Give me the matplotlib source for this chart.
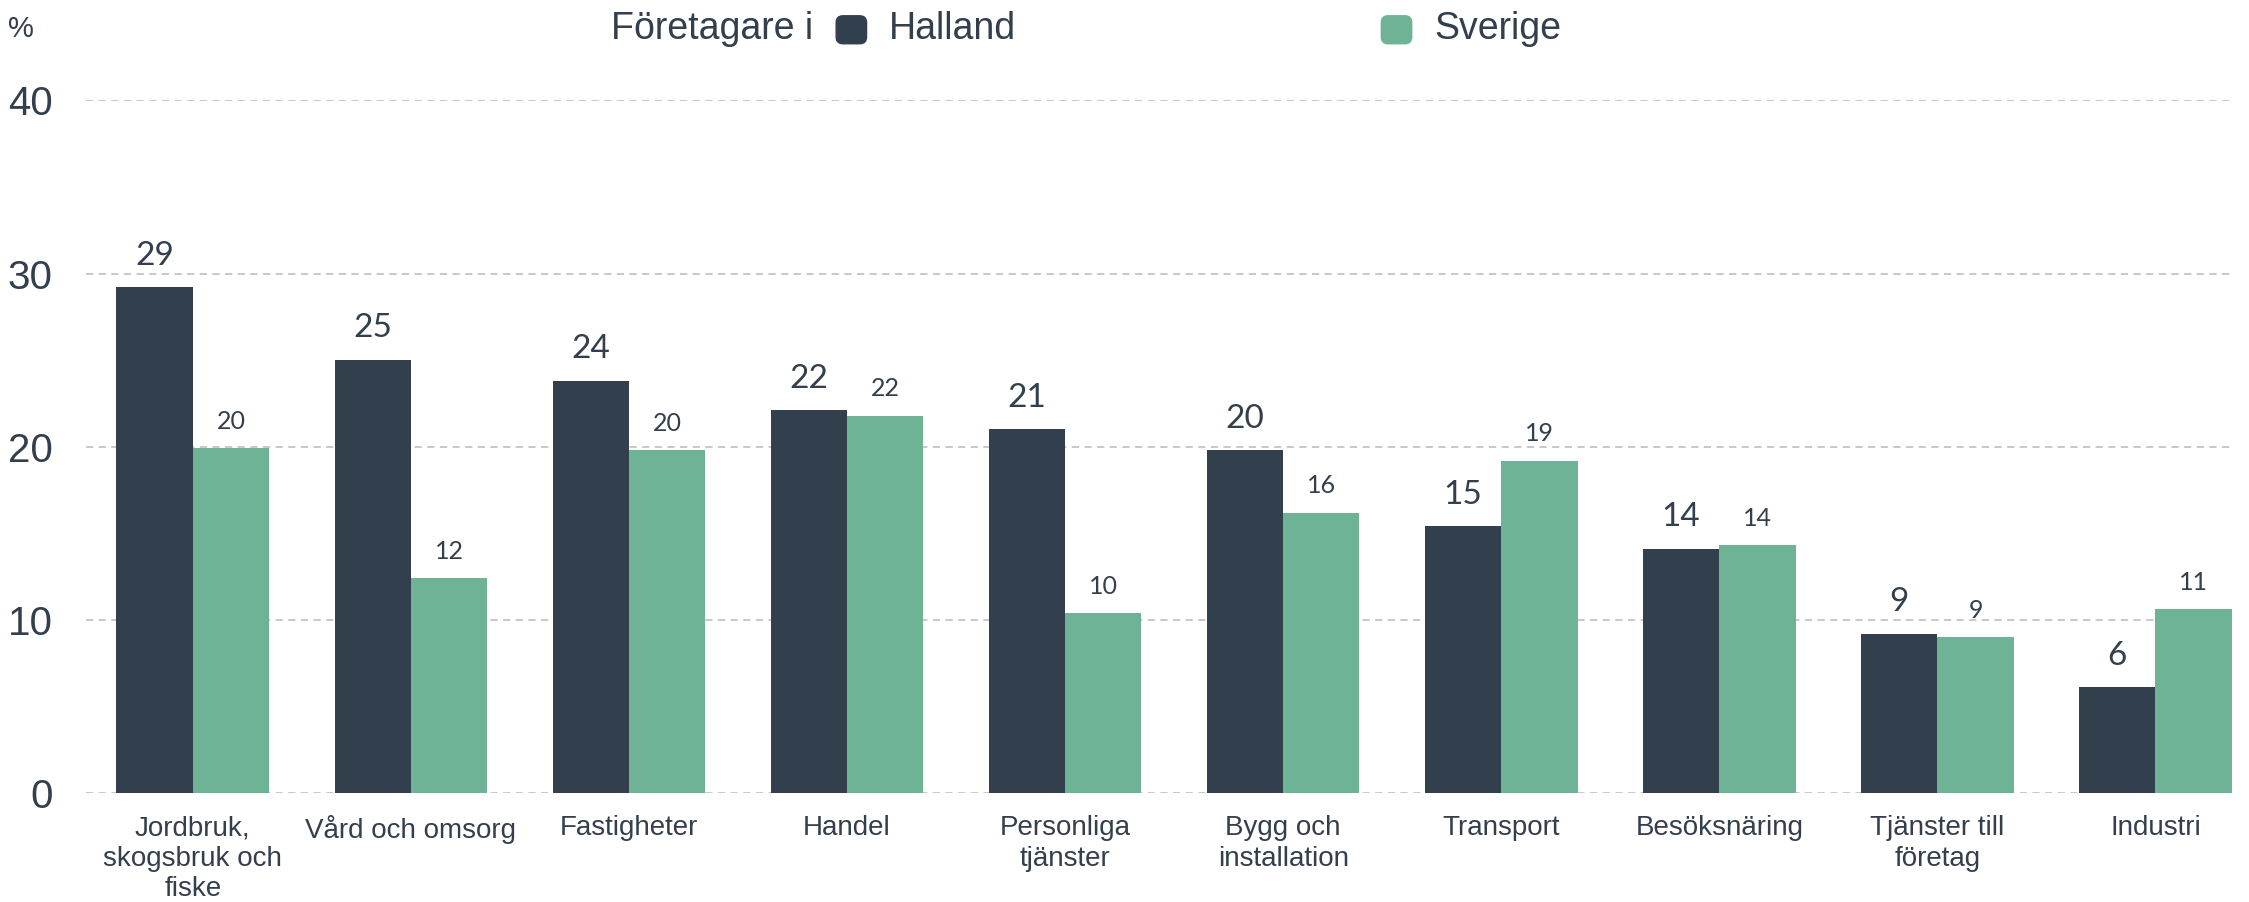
import matplotlib
matplotlib.use("Agg")
import matplotlib.pyplot as plt
import numpy as np
from matplotlib.patches import FancyBboxPatch

categories = ["Jordbruk,\nskogsbruk och\nfiske", "Vård och omsorg", "Fastigheter", "Handel",
              "Personliga\ntjänster", "Bygg och\ninstallation", "Transport", "Besöksnäring",
              "Tjänster till\nföretag", "Industri"]
halland = [29.2, 25.0, 23.8, 22.1, 21.0, 19.8, 15.4, 14.1, 9.2, 6.1]
sverige = [19.9, 12.4, 19.8, 21.8, 10.4, 16.2, 19.2, 14.3, 9.0, 10.6]
yticks = [0, 10, 20, 30, 40]
legend_title = "Företagare i"
series_names = ["Halland", "Sverige"]

DARK = "#323f4d"
GREEN = "#6fb396"
TEXT = "#333f4d"
SANS = ["Liberation Sans", "DejaVu Sans"]

plt.rcParams["font.family"] = SANS

fig = plt.figure(figsize=(22.49, 9.02), dpi=100)
ax = fig.add_axes([0.0382, 0.1208, 0.9551, 0.7679])

x = np.arange(len(categories))
w = 0.35
b1 = ax.bar(x - w / 2, halland, width=w, color=DARK, zorder=3)
b2 = ax.bar(x + w / 2, sverige, width=w, color=GREEN, zorder=3)

for rect, v in zip(b1, halland):
    ax.annotate(f"{round(v):d}", (rect.get_x() + rect.get_width() / 2, v),
                xytext=(0, 12), textcoords="offset points", ha="center", va="bottom",
                fontsize=24, color=TEXT, family=["Lato", "DejaVu Sans"])
for rect, v in zip(b2, sverige):
    ax.annotate(f"{round(v):d}", (rect.get_x() + rect.get_width() / 2, v),
                xytext=(0, 11), textcoords="offset points", ha="center", va="bottom",
                fontsize=18, color=TEXT, family=["Lato", "DejaVu Sans"])

ax.set_xlim(-0.49, len(categories) - 1 + 0.36)
ax.set_ylim(0, 40)
ax.set_yticks(yticks)
ax.set_yticklabels([str(t) for t in yticks], fontsize=29, color=TEXT)
ax.set_xticks(x)
ax.set_xticklabels(categories, fontsize=20, color=TEXT, linespacing=1.22, va="top")
ax.tick_params(axis="both", length=0)
ax.tick_params(axis="x", pad=16)
ax.tick_params(axis="y", pad=24)
ax.grid(axis="y", color="#c4c4c4", linestyle=(0, (4, 3)), linewidth=1.3, zorder=0)
for s in ax.spines.values():
    s.set_visible(False)

# header texts
yc = 0.968
fig.text(0.0036, yc, "%", fontsize=21, color=TEXT, va="center", ha="left")
fig.text(0.2715, yc, legend_title, fontsize=27, color=TEXT, va="center", ha="left")
for name, col, xs in [(series_names[0], DARK, 0.3718), (series_names[1], GREEN, 0.6142)]:
    fig.patches.append(FancyBboxPatch((xs, yc - 0.0165), 0.0135, 0.031,
                                      boxstyle="round,pad=0,rounding_size=0.003",
                                      transform=fig.transFigure, color=col, mutation_aspect=2.5))
    fig.text(xs + 0.0235, yc, name, fontsize=27, color=TEXT, va="center", ha="left")

fig.savefig("out.png", dpi=100)
